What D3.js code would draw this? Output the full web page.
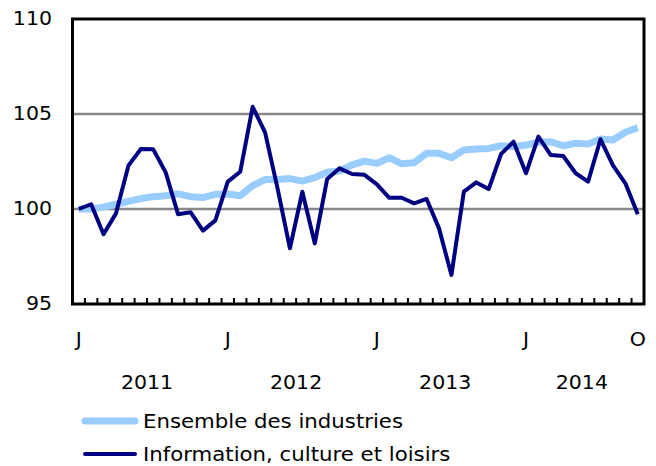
<!DOCTYPE html>
<html lang="fr">
  <head>
    <meta charset="UTF-8" />
    <title>Indice</title>
    <style>
      body { margin: 0; background: #fff; }
      svg text { font-family: "DejaVu Sans", Verdana, sans-serif; fill: #000; }
    </style>
  </head>
  <body>
    <div id="chart"></div>
    <script src="https://cdn.jsdelivr.net/npm/d3@7"></script>
    <script>

      // mois, janvier 2011 a octobre 2014
      var months = [
        "2011-01","2011-02","2011-03","2011-04","2011-05","2011-06","2011-07","2011-08","2011-09","2011-10","2011-11","2011-12",
        "2012-01","2012-02","2012-03","2012-04","2012-05","2012-06","2012-07","2012-08","2012-09","2012-10","2012-11","2012-12",
        "2013-01","2013-02","2013-03","2013-04","2013-05","2013-06","2013-07","2013-08","2013-09","2013-10","2013-11","2013-12",
        "2014-01","2014-02","2014-03","2014-04","2014-05","2014-06","2014-07","2014-08","2014-09","2014-10"
      ];

      var ensemble = [
        100.0, 100.0, 100.1, 100.25, 100.4, 100.55, 100.65, 100.7, 100.8, 100.65, 100.6, 100.77,
        100.79, 100.7, 101.23, 101.55, 101.55, 101.6, 101.47, 101.65, 101.93, 102.0, 102.32, 102.52,
        102.4, 102.7, 102.38, 102.44, 102.93, 102.93, 102.7, 103.1, 103.16, 103.19, 103.33, 103.28,
        103.37, 103.51, 103.54, 103.33, 103.46, 103.42, 103.68, 103.63, 104.04, 104.28
      ];

      var information = [
        100.0, 100.25, 98.67, 99.77, 102.28, 103.16, 103.14, 101.93, 99.72, 99.83, 98.86, 99.4,
        101.44, 101.96, 105.38, 104.03, 101.1, 97.93, 100.91, 98.19, 101.58, 102.14, 101.84, 101.8,
        101.3, 100.59, 100.59, 100.3, 100.53, 98.98, 96.53, 100.91, 101.4, 101.05, 102.9, 103.54,
        101.88, 103.81, 102.84, 102.79, 101.88, 101.44, 103.67, 102.3, 101.35, 99.72
      ];

      var yTicks = [95, 100, 105, 110];
      var gridValues = [100, 105];
      var monthLabels = { "2011-01": "J", "2012-01": "J", "2013-01": "J", "2014-01": "J", "2014-10": "O" };
      var years = ["2011", "2012", "2013", "2014"];

      var seriesNames = ["Ensemble des industries", "Information, culture et loisirs"];
      var seriesColors = ["#99ccff", "#000080"];
      var seriesWidths = [7, 4];

      var w = 656, h = 466;
      var plotLeft = 72.5, plotRight = 644, plotTop = 19, plotBottom = 304;
      var fs = 19;

      var svg = d3.select("#chart").append("svg")
                  .attr("width", w)
                  .attr("height", h);

      var xScale = d3.scaleBand()
                     .domain(months)
                     .range([plotLeft, plotRight]);
      var yScale = d3.scaleLinear()
                     .domain([95, 110])
                     .range([plotBottom, plotTop]);

      function xc(m) { return xScale(m) + xScale.bandwidth() / 2; }

      function label(x, y, txt, anchor, stretch) {
        svg.append("text")
           .attr("transform", "translate(" + x + "," + y + ") scale(" + (stretch || 1.08) + ",1)")
           .attr("text-anchor", anchor)
           .attr("dominant-baseline", "central")
           .style("font-size", fs + "px")
           .text(txt);
      }

      // grille
      svg.append("g")
         .selectAll("line")
         .data(gridValues)
         .enter()
         .append("line")
         .attr("x1", plotLeft)
         .attr("x2", plotRight)
         .attr("y1", function(d) { return yScale(d); })
         .attr("y2", function(d) { return yScale(d); })
         .attr("stroke", "#888")
         .attr("stroke-width", 2.5);

      // courbes
      var allSeries = [ensemble, information];
      var line = d3.line()
                   .x(function(d, i) { return xc(months[i]); })
                   .y(function(d) { return yScale(d); });

      allSeries.forEach(function(s, k) {
        svg.append("path")
           .datum(s)
           .attr("fill", "none")
           .attr("stroke", seriesColors[k])
           .attr("stroke-width", seriesWidths[k])
           .attr("stroke-linejoin", "round")
           .attr("d", line);
      });

      // cadre
      svg.append("rect")
         .attr("x", plotLeft)
         .attr("y", plotTop)
         .attr("width", plotRight - plotLeft)
         .attr("height", plotBottom - plotTop)
         .attr("fill", "none")
         .attr("stroke", "#000")
         .attr("stroke-width", 3);

      // petites graduations mensuelles
      svg.append("g")
         .selectAll("line")
         .data(months.slice(1))
         .enter()
         .append("line")
         .attr("x1", function(d) { return xScale(d); })
         .attr("x2", function(d) { return xScale(d); })
         .attr("y1", plotBottom)
         .attr("y2", plotBottom - 6)
         .attr("stroke", "#000")
         .attr("stroke-width", 2);

      // etiquettes axe y
      yTicks.forEach(function(v) {
        label(52, yScale(v), v, "end");
      });

      // etiquettes de mois
      Object.keys(monthLabels).forEach(function(m) {
        label(xc(m), 340, monthLabels[m], "middle");
      });

      // annees
      years.forEach(function(yr) {
        var ms = months.filter(function(m) { return m.slice(0, 4) === yr; });
        var cx = (xc(ms[0]) + xc(ms[ms.length - 1])) / 2;
        label(cx, 383, yr, "middle");
      });

      // legende
      seriesNames.forEach(function(name, k) {
        var ly = 421 + k * 33;
        svg.append("line")
           .attr("x1", 85)
           .attr("x2", 135)
           .attr("y1", ly)
           .attr("y2", ly)
           .attr("stroke", seriesColors[k])
           .attr("stroke-width", seriesWidths[k])
           .attr("stroke-linecap", "round");
        label(143, ly, name, "start", 1.12);
      });

    </script>
  </body>
</html>
